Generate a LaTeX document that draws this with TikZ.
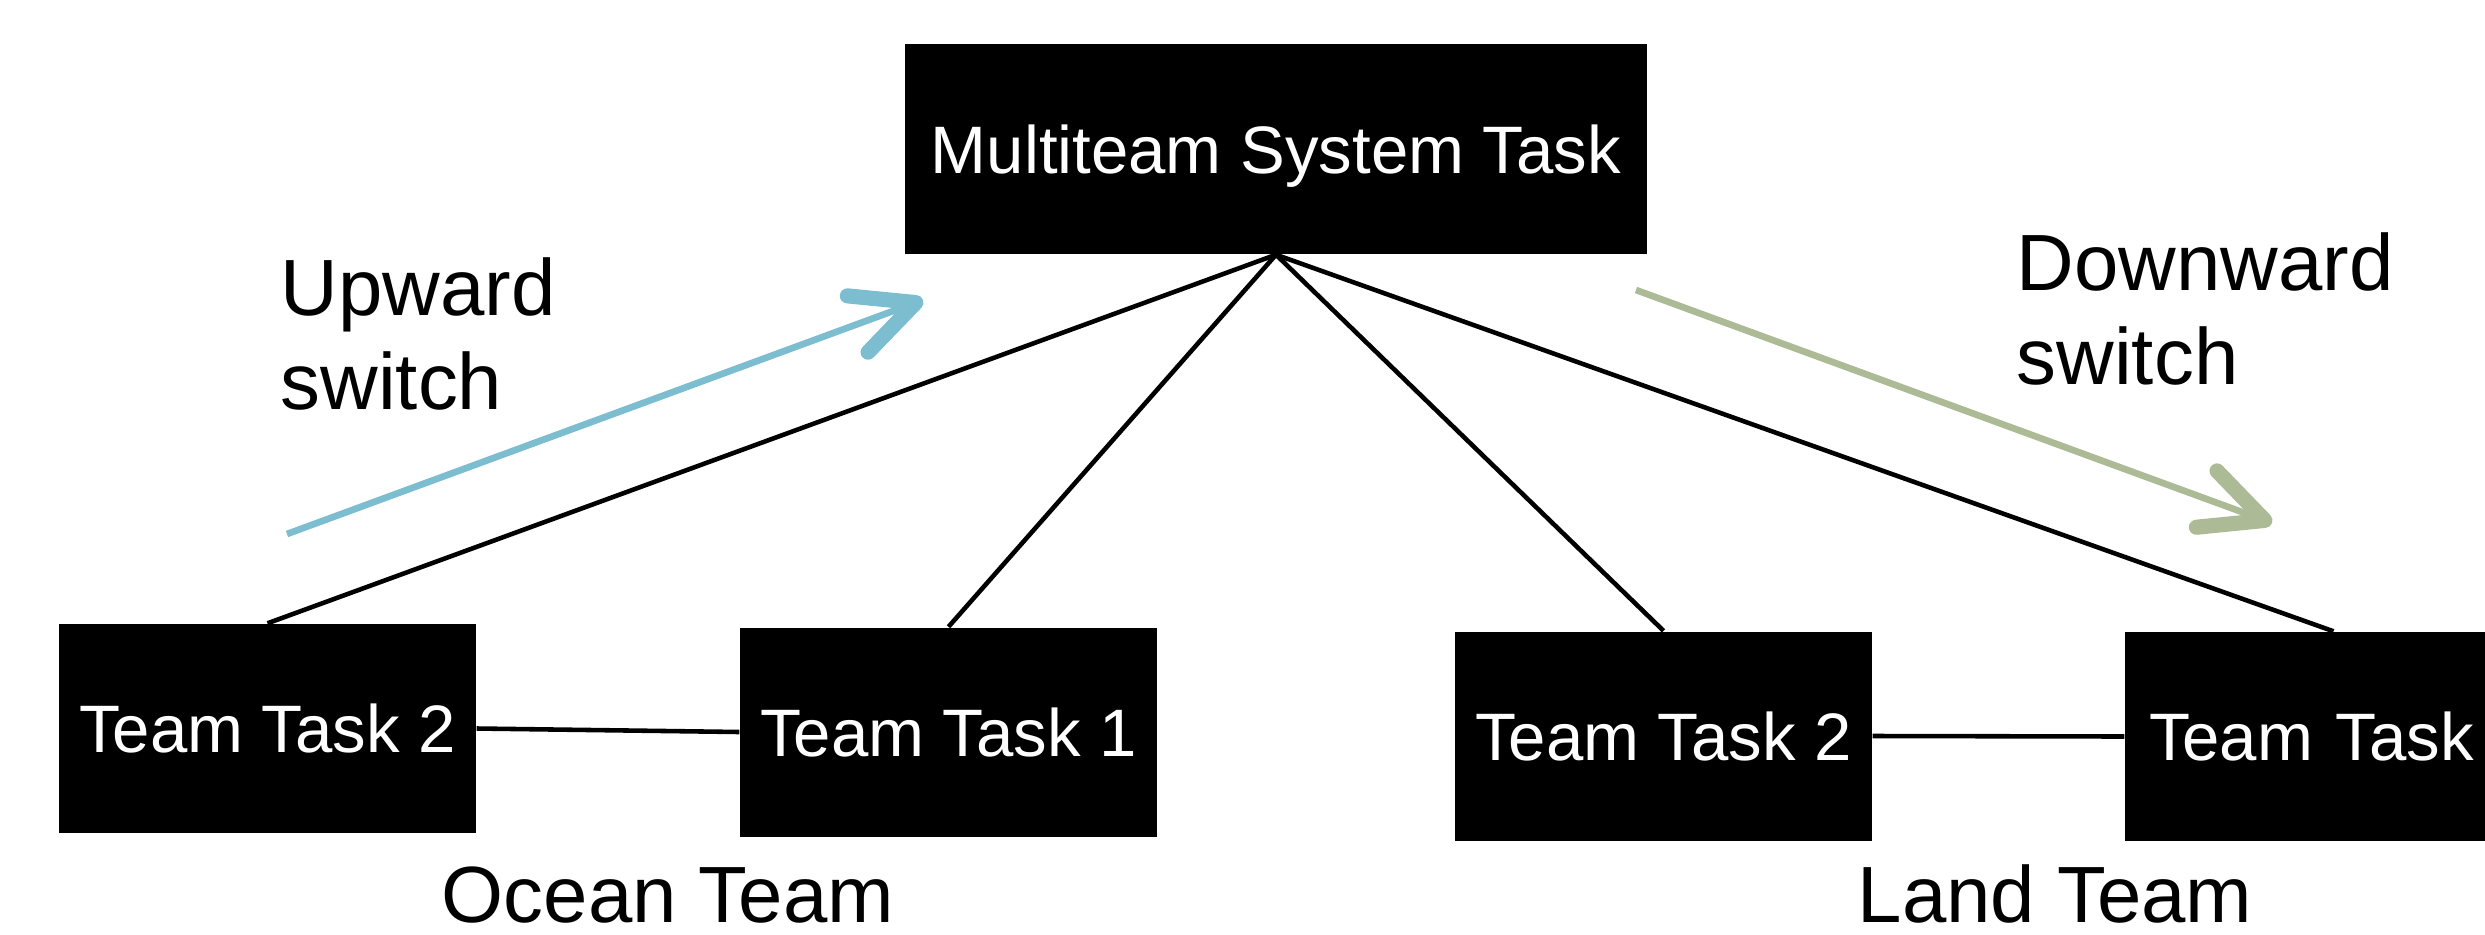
\documentclass[tikz,border=0pt]{standalone}
\usepackage{fontspec}
\setmainfont{Liberation Sans}
\usetikzlibrary{arrows.meta}
\definecolor{upblue}{RGB}{125,189,208}
\definecolor{downgreen}{RGB}{172,187,149}

\begin{document}
\begin{tikzpicture}[>=Stealth,
    taskbox/.style={fill=black, text=white, minimum width=4.17cm, minimum height=2.09cm, inner sep=0pt, text depth=0pt, font=\fontsize{19.1}{22}\selectfont},
    link/.style={line width=1.3pt},
    switcharrow/.style={line width=1.9pt, -{Straight Barb[length=0.62cm, width=0.6cm, line width'=4.3pt, round]}},
    teamlabel/.style={inner sep=0pt, anchor=base, font=\fontsize{22.7}{26.5}\selectfont},
    switchlabel/.style={inner sep=0pt, anchor=base west, align=left, font=\fontsize{22.7}{26.5}\selectfont}]

    % Khung hình
    \path[use as bounding box, clip] (0,0) rectangle (24.85,9.34);

    % Nhiệm vụ chung
    \node[taskbox, minimum width=7.42cm, minimum height=2.10cm] (mts) at (12.76,7.85) {Multiteam System Task};

    % Ocean Team
    \node[taskbox] (ocean2) at (2.675,2.055) {Team Task 2};
    \node[taskbox] (ocean1) at (9.485,2.02) {Team Task 1};

    % Land Team (hộp phải bị cắt ở mép)
    \node[taskbox] (land2) at (16.635,1.98) {Team Task 2};
    \node[taskbox, text width=3.69cm, inner xsep=0.24cm, align=left] (land1) at (23.335,1.975) {Team Task};

    % Đường nối
    \draw[link] (mts.south) -- (ocean2.north);
    \draw[link] (mts.south) -- (ocean1.north);
    \draw[link] (mts.south) -- (land2.north);
    \draw[link] (mts.south) -- (land1.north);
    \draw[link] (ocean2.east) -- (ocean1.west);
    \draw[link] (land2.east) -- (land1.west);

    % Mũi tên chuyển
    \coordinate (upA) at (2.87,4.00);
    \coordinate (upB) at (9.23,6.34);
    \coordinate (downA) at (16.36,6.44);
    \coordinate (downB) at (22.72,4.11);
    \draw[switcharrow, upblue] (upA) -- (upB);
    \draw[switcharrow, downgreen] (downA) -- (downB);

    % Nhãn (mốc base = dòng cuối)
    \node[switchlabel] (uplabel) at (2.80,5.25) {Upward\\switch};
    \node[switchlabel] (downlabel) at (20.16,5.50) {Downward\\switch};
    \node[teamlabel] (oceanlabel) at (6.68,0.12) {Ocean Team};
    \node[teamlabel] (landlabel) at (20.55,0.12) {Land Team};
\end{tikzpicture}
\end{document}
